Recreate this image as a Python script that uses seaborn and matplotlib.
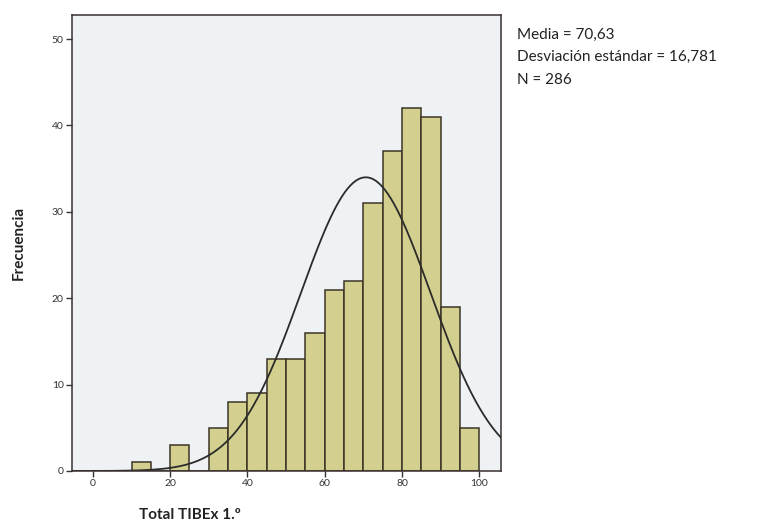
import numpy as np
import pandas as pd
import seaborn as sns
import matplotlib.pyplot as plt

# histogram of Total TIBEx 1.º (bin width 5)
bin_edges = [10, 15, 20, 25, 30, 35, 40, 45, 50, 55, 60, 65, 70, 75, 80, 85, 90, 95, 100]
counts = [1, 0, 3, 0, 5, 8, 9, 13, 13, 16, 21, 22, 31, 37, 42, 41, 19, 5]
media = 70.63
desv = 16.781
n_total = 286
x_ticks = [0, 20, 40, 60, 80, 100]
y_ticks = [0, 10, 20, 30, 40, 50]

sns.set_style("ticks")
plt.rcParams['font.family'] = ['Lato', 'DejaVu Sans']

fig = plt.figure(figsize=(7.72, 5.31), dpi=100)
ax = fig.add_axes([0.0933, 0.113, 0.556, 0.859])
ax.set_facecolor("#eef2f5")

df = pd.DataFrame({"mid": np.array(bin_edges[:-1]) + 2.5, "n": counts})
sns.histplot(data=df, x="mid", weights="n", bins=bin_edges, ax=ax,
             color="#d3cf8e", alpha=1, edgecolor="#3b3426", linewidth=1.1)

# normal curve scaled to counts
xs = np.linspace(-5.4, 105.7, 300)
width = bin_edges[1] - bin_edges[0]
ys = n_total * width * np.exp(-0.5 * ((xs - media) / desv) ** 2) / (desv * np.sqrt(2 * np.pi))
sns.lineplot(x=xs, y=ys, ax=ax, color="#2b2b2b", linewidth=1.3)

ax.set_xlim(-5.4, 105.7)
ax.set_ylim(0, 52.8)
ax.set_xticks(x_ticks)
ax.set_yticks(y_ticks)
ax.tick_params(labelsize=7.5, colors="#333333", length=4, width=1, pad=2)
for s in ax.spines.values():
    s.set_color("#3a3030")
    s.set_linewidth(1.1)
ax.set_xlabel("")
ax.set_ylabel("")

fig.text(0.024, 0.542, "Frecuencia", rotation=90, ha="center", va="center",
         fontsize=11, fontweight="bold", color="#222222")
fig.text(0.246, 0.03, "Total TIBEx 1.º", ha="center", va="center",
         fontsize=11, fontweight="bold", color="#222222")

stats = [f"Media = {media:.2f}".replace(".", ","),
         f"Desviación estándar = {desv:.3f}".replace(".", ","),
         f"N = {n_total}"]
for i, t in enumerate(stats):
    fig.text(0.670, 0.934 - i * 0.042, t, ha="left", va="center",
             fontsize=11, color="#222222")

fig.savefig("out.png", dpi=100)
